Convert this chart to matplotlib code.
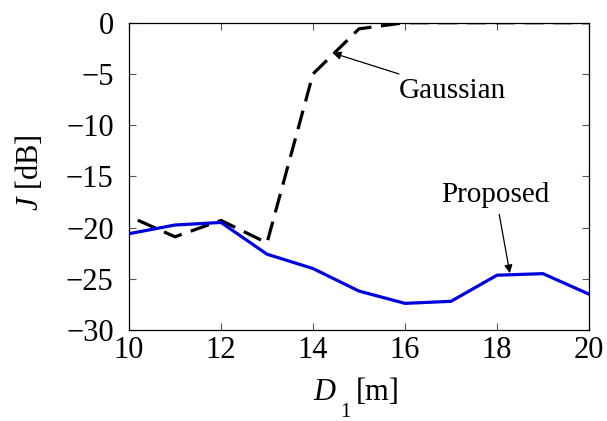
import matplotlib
matplotlib.use("Agg")
import matplotlib.pyplot as plt

plt.rcParams['font.family'] = ['Liberation Serif', 'DejaVu Serif']
plt.rcParams['mathtext.fontset'] = 'custom'
plt.rcParams['mathtext.rm'] = 'Liberation Serif'
plt.rcParams['mathtext.it'] = 'Liberation Serif:italic'

# Data
d1 = [10, 11, 12, 13, 14, 15, 16, 17, 18, 19, 20]
proposed = [-20.6, -19.75, -19.5, -22.6, -24.0, -26.2, -27.4, -27.2, -24.65, -24.5, -26.5]
gaussian = [-18.9, -20.9, -19.3, -21.5, -5.0, -0.6, 0.0, 0.0, 0.0, 0.0, 0.0]
xticks = [10, 12, 14, 16, 18, 20]
yticks = [0, -5, -10, -15, -20, -25, -30]

W, H = 607, 421
fig = plt.figure(figsize=(W / 100, H / 100), dpi=100)
ax = fig.add_axes([129 / W, 1 - 330 / H, (589 - 129) / W, (330 - 22.7) / H])

ax.plot(d1, proposed, color='#0000dd', lw=2.3, zorder=3)
ax.plot(d1, gaussian, color='black', lw=2.3, linestyle=(6.0, (6.0, 3.0)), zorder=2)

ax.set_xlim(10, 20)
ax.set_ylim(-30, 0)
ax.set_xticks(xticks)
ax.set_yticks(yticks)
ax.tick_params(direction='in', length=5, width=0.8, color='#555555',
               top=True, right=True, labelsize=22)
ax.tick_params(axis='x', pad=4)
ax.tick_params(axis='y', pad=11)
for s in ax.spines.values():
    s.set_linewidth(0.9)
    s.set_color('black')

# x label: D_1 [m]
fig.text(313 / W, 1 - 400 / H, 'D', fontsize=22, style='italic', ha='left', va='baseline')
fig.text(340 / W, 1 - 417 / H, '1', fontsize=15, ha='left', va='baseline')
fig.text(356 / W, 1 - 400 / H, '[m]', fontsize=22, ha='left', va='baseline')

# y label
fig.text(30 / W, 1 - 173 / H, r'$J$ [dB]', fontsize=22, rotation=90, ha='center', va='center')

arrow = dict(arrowstyle='-|>', color='black', lw=0.9, mutation_scale=12, shrinkA=3, shrinkB=0)
ax.annotate('Gaussian', xy=(14.43, -2.96), xytext=(17.04, -7.35),
            fontsize=21, ha='center', va='baseline', arrowprops=arrow)
ax.annotate('Proposed', xy=(18.28, -24.45), xytext=(17.97, -17.46),
            fontsize=21, ha='center', va='baseline', arrowprops=arrow)

fig.savefig('out.png', dpi=100)
